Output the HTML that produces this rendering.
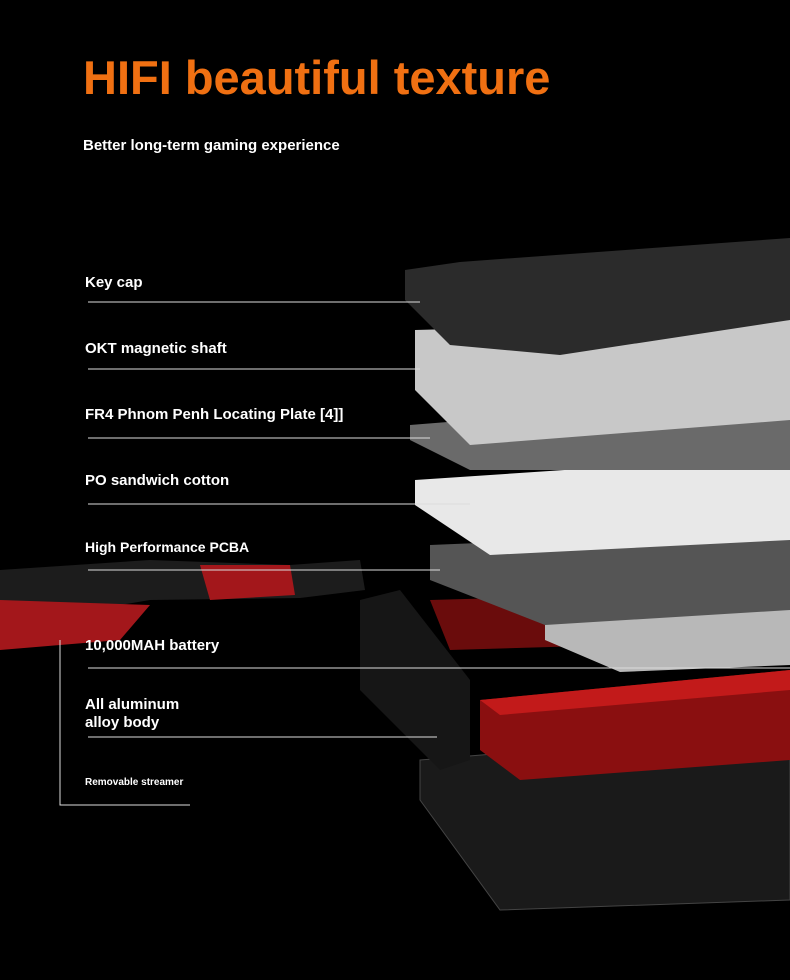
<!DOCTYPE html>
<html><head><meta charset="utf-8"><style>
body{margin:0;width:790px;height:980px;background:#000;overflow:hidden;position:relative;font-family:"Liberation Sans",sans-serif;}
.t{position:absolute;color:#fff;font-weight:bold;}
svg{position:absolute;left:0;top:0}
</style></head><body>
<svg width="790" height="980">
<polygon points="420,760 790,730 790,900 500,910 420,800" fill="#1a1a1a" stroke="#444"/>
<polygon points="480,700 790,670 790,760 520,780 480,750" fill="#8a0f10"/>
<polygon points="480,700 790,670 790,690 500,715" fill="#c21a1a"/>
<polygon points="430,600 790,590 790,640 450,650" fill="#6a0c0c"/>
<polygon points="545,600 790,590 790,665 620,672 545,640" fill="#b8b8b8"/>
<polygon points="430,545 790,530 790,610 545,625 430,580" fill="#555"/>
<polygon points="415,480 790,455 790,540 490,555 415,505" fill="#e8e8e8"/>
<polygon points="410,425 790,395 790,470 470,470 410,440" fill="#6a6a6a"/>
<polygon points="415,330 790,320 790,420 470,445 415,390" fill="#c8c8c8"/>
<polygon points="405,270 460,262 790,238 790,320 560,355 450,345 405,300" fill="#2b2b2b"/>
<polygon points="0,570 150,560 290,565 360,560 365,590 300,598 150,600 0,625" fill="#1c1c1c"/>
<polygon points="200,565 290,565 295,595 210,600" fill="#a3171b"/>
<polygon points="0,600 150,605 120,640 0,650" fill="#a3171b"/>
<polygon points="360,600 400,590 470,680 470,760 440,770 360,690" fill="#161616"/>
<g stroke="#ddd" stroke-width="1" fill="none">
<line x1="88" y1="302" x2="420" y2="302"/>
<line x1="88" y1="369" x2="420" y2="369"/>
<line x1="88" y1="438" x2="430" y2="438"/>
<line x1="88" y1="504" x2="470" y2="504"/>
<line x1="88" y1="570" x2="440" y2="570"/>
<line x1="88" y1="668" x2="790" y2="668"/>
<line x1="88" y1="737" x2="437" y2="737"/>
<polyline points="60,640 60,805 190,805"/>
</g>
</svg>
<div class="t" style="left:83px;top:50px;font-size:47px;color:#f07012;">HIFI beautiful texture</div>
<div class="t" style="left:83px;top:137px;font-size:15px;">Better long-term gaming experience</div>
<div class="t" style="left:85px;top:274px;font-size:15px;">Key cap</div>
<div class="t" style="left:85px;top:340px;font-size:15px;">OKT magnetic shaft</div>
<div class="t" style="left:85px;top:406px;font-size:15px;">FR4 Phnom Penh Locating Plate [4]]</div>
<div class="t" style="left:85px;top:472px;font-size:15px;">PO sandwich cotton</div>
<div class="t" style="left:85px;top:539px;font-size:14px;">High Performance PCBA</div>
<div class="t" style="left:85px;top:637px;font-size:15px;">10,000MAH battery</div>
<div class="t" style="left:85px;top:696px;font-size:15px;line-height:18px;">All aluminum<br>alloy body</div>
<div class="t" style="left:85px;top:777px;font-size:10px;">Removable streamer</div>
</body></html>
